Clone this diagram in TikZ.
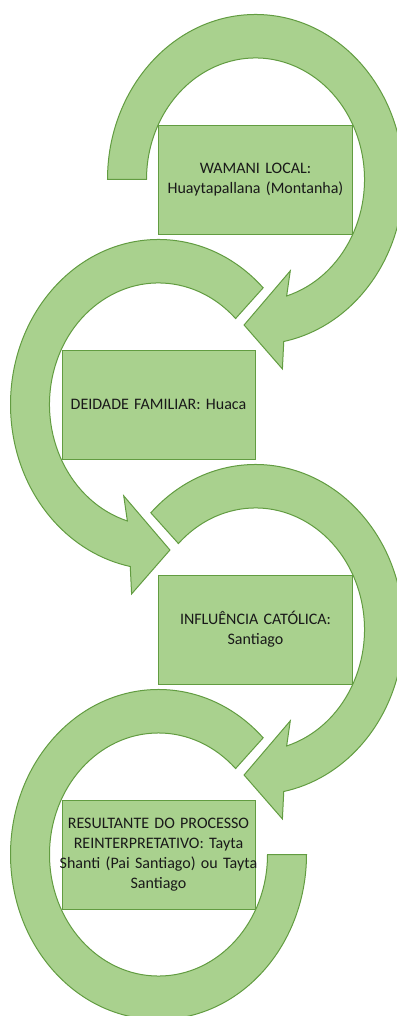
\documentclass[tikz,border=0pt]{standalone}
\usepackage{fontspec}
\setmainfont{Carlito}
\usepackage{xcolor}
\usepackage{tikz}
\usetikzlibrary{backgrounds}
\definecolor{ringfill}{HTML}{A9D18E}
\definecolor{ringline}{HTML}{629C41}

\begin{document}
\begin{tikzpicture}[x=1pt, y=1pt,
  box/.style={rectangle, draw=ringline, fill=ringfill, line width=1pt, text width=187pt, text centered, inner xsep=3pt, inner ysep=2pt, minimum height=109pt, font=\fontsize{16}{20}\selectfont, text=black!90},
  ring/.style={draw=ringline, fill=ringfill, line width=1pt, line join=miter}]
\useasboundingbox (0,0) rectangle (396,-1016);
\matrix[column sep=-97pt, row sep=115pt] at (207,-517) {
  & \node[box] (wamani) {WAMANI LOCAL:\\ Huaytapallana (Montanha)};\\
  \node[box] (huaca) {DEIDADE FAMILIAR: Huaca}; & \\
  & \node[box] (santiago) {INFLUÊNCIA CATÓLICA:\\ Santiago};\\
  \node[box] (tayta) {RESULTANTE DO PROCESSO\\ REINTERPRETATIVO: Tayta\\ \makebox[\linewidth]{Shanti (Pai Santiago) ou Tayta}\\ Santiago}; & \\
};
\begin{scope}[on background layer]
\begin{scope}[shift={(wamani.center)}, yscale=1.115]
\path[ring] (180:148) arc[start angle=180, end angle=-79, radius=148] -- (-81:172) -- (-95:131) -- (-67:89) -- (-73.4:109) arc[start angle=-73.4, end angle=180, radius=109] -- cycle;
\end{scope}
\begin{scope}[shift={(huaca.center)}, yscale=1.115]
\path[ring] (45:148) arc[start angle=45, end angle=259, radius=148] -- (261:172) -- (275:131) -- (247:89) -- (253.4:109) arc[start angle=253.4, end angle=45, radius=109] -- cycle;
\end{scope}
\begin{scope}[shift={(santiago.center)}, yscale=1.115]
\path[ring] (135:148) arc[start angle=135, end angle=-79, radius=148] -- (-81:172) -- (-95:131) -- (-67:89) -- (-73.4:109) arc[start angle=-73.4, end angle=135, radius=109] -- cycle;
\end{scope}
\begin{scope}[shift={(tayta.center)}, yscale=1.115]
\path[ring] (45:148) arc[start angle=45, end angle=360, radius=148] -- (0:109) arc[start angle=360, end angle=45, radius=109] -- cycle;
\end{scope}
\end{scope}
\end{tikzpicture}
\end{document}
